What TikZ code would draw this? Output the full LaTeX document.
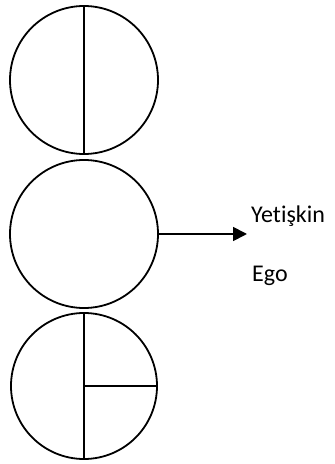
\documentclass[tikz,border=0pt]{standalone}
\usepackage{fontspec}
\setmainfont[Ligatures=NoCommon]{Carlito}
\usetikzlibrary{arrows.meta}
\begin{document}
\begin{tikzpicture}[x=1pt,y=1pt,
  ring/.style={draw,circle,line width=1.8pt,minimum size=148pt,inner sep=0pt},
  lbl/.style={anchor=base west,inner sep=0pt,font=\fontsize{24}{28}\selectfont}]
\useasboundingbox (0,0) rectangle (335,464);
\node[ring] (top) at (84,384) {};
\node[ring] (mid) at (84,230) {};
\node[ring,minimum size=146pt] (bot) at (84,78) {};
\draw[line width=1.8pt] (top.north) -- (top.south);
\draw[line width=1.8pt] (bot.north) -- (bot.south);
\draw[line width=1.8pt] (bot.center) -- (bot.east);
\coordinate (tip) at (247,230);
\draw[line width=1.8pt,-{Triangle[length=14pt,width=14pt]}] (mid.east) -- (tip);
\node[lbl] (yet) at (251,241) {Yetişkin};
\node[lbl] (ego) at (252,182) {Ego};
\end{tikzpicture}
\end{document}
